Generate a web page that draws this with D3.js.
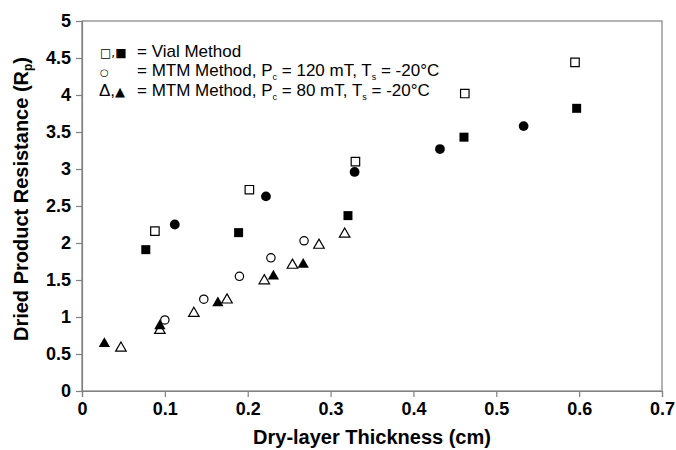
<!DOCTYPE html>
<html>
<head>
<meta charset="utf-8">
<script src="https://cdn.jsdelivr.net/npm/d3@7"></script>
<style>
  body { margin: 0; background: #fff; }
  svg { display: block; font-family: "Liberation Sans", Arial, sans-serif; }
</style>
</head>
<body>
<svg class="chart" width="676" height="450"></svg>
<script>
// dry-layer thickness (cm) / resistance
const vialOpenX = [0.088, 0.202, 0.330, 0.462, 0.595]
const vialOpenY = [2.16, 2.72, 3.10, 4.02, 4.44]
const vialFilledX = [0.077, 0.189, 0.321, 0.461, 0.597]
const vialFilledY = [1.91, 2.14, 2.37, 3.43, 3.82]
const filledCircleX = [0.112, 0.222, 0.329, 0.432, 0.533]
const filledCircleY = [2.25, 2.63, 2.96, 3.27, 3.58]
const mtm120X = [0.100, 0.147, 0.190, 0.228, 0.268]
const mtm120Y = [0.96, 1.24, 1.55, 1.80, 2.03]
const mtm80OpenX = [0.047, 0.094, 0.135, 0.175, 0.220, 0.254, 0.286, 0.317]
const mtm80OpenY = [0.58, 0.82, 1.05, 1.23, 1.49, 1.70, 1.97, 2.12]
const mtm80FilledX = [0.027, 0.094, 0.164, 0.231, 0.267]
const mtm80FilledY = [0.64, 0.88, 1.19, 1.55, 1.71]

const xTicks = [0, 0.1, 0.2, 0.3, 0.4, 0.5, 0.6, 0.7]
const yTicks = [0, 0.5, 1, 1.5, 2, 2.5, 3, 3.5, 4, 4.5, 5]

const plotLeft = 82, plotRight = 662, plotTop = 21, plotBottom = 391
const x = d3.scaleLinear([0, 0.7], [plotLeft, plotRight])
const y = d3.scaleLinear([0, 5], [plotBottom, plotTop])

const svg = d3.select('.chart')

// frame
svg.append('rect')
    .attr('x', plotLeft).attr('y', plotTop)
    .attr('width', plotRight - plotLeft).attr('height', plotBottom - plotTop)
    .attr('fill', 'none')
    .attr('stroke', '#808080')
    .attr('stroke-width', 1.2)

// AXES
const xAxis = svg.append('g')
    .attr('transform', `translate(0, ${plotBottom})`)
    .call(d3.axisBottom(x).tickValues(xTicks).tickFormat(d => String(d)).tickSize(6).tickPadding(5))
const yAxis = svg.append('g')
    .attr('transform', `translate(${plotLeft}, 0)`)
    .call(d3.axisLeft(y).tickValues(yTicks).tickFormat(d => String(d)).tickSize(6).tickPadding(5))

for (const ax of [xAxis, yAxis]) {
    ax.select('.domain').attr('stroke', '#808080').attr('stroke-width', 1.2)
    ax.selectAll('.tick line').attr('stroke', '#808080').attr('stroke-width', 1.2)
    ax.selectAll('.tick text')
        .attr('fill', '#000')
        .attr('font-size', '18px')
        .attr('font-weight', 'bold')
        .attr('font-family', '"Liberation Sans", Arial, sans-serif')
}

// axis titles
svg.append('text')
    .text('Dry-layer Thickness (cm)')
    .attr('x', (plotLeft + plotRight) / 2)
    .attr('y', 444)
    .attr('text-anchor', 'middle')
    .attr('font-size', '20px')
    .attr('font-weight', 'bold')

const yTitle = svg.append('text')
    .attr('transform', 'translate(28, 199) rotate(-90)')
    .attr('text-anchor', 'middle')
    .attr('font-size', '20px')
    .attr('font-weight', 'bold')
yTitle.append('tspan').text('Dried Product Resistance (R')
yTitle.append('tspan').text('p').attr('font-size', '12px').attr('dy', 4)
yTitle.append('tspan').text(')').attr('dy', -4)

// MARKERS
function drawSeries(xs, ys, type, size, filled) {
    const pts = xs.map((d, i) => ({x: d, y: ys[i]}))
    svg.append('g')
        .selectAll('path')
        .data(pts)
        .join('path')
        .attr('d', d3.symbol(type, size)())
        .attr('transform', d => `translate(${x(d.x)}, ${y(d.y)})`)
        .attr('fill', filled ? '#000' : '#fff')
        .attr('stroke', '#000')
        .attr('stroke-width', filled ? 0 : 1.2)
}

drawSeries(mtm80OpenX, mtm80OpenY, d3.symbolTriangle, 48, false)
drawSeries(mtm120X, mtm120Y, d3.symbolCircle, 55, false)
drawSeries(mtm80FilledX, mtm80FilledY, d3.symbolTriangle, 55, true)
drawSeries(vialOpenX, vialOpenY, d3.symbolSquare, 72, false)
drawSeries(vialFilledX, vialFilledY, d3.symbolSquare, 81, true)
drawSeries(filledCircleX, filledCircleY, d3.symbolCircle, 75, true)

// LEGEND
const legend = svg.append('g').attr('font-size', '17px').attr('fill', '#000')

legend.append('text').attr('x', 100).attr('y', 57)
    .attr('font-size', '12px').attr('font-family', '"DejaVu Sans", sans-serif')
    .text('□,■')
legend.append('text').attr('x', 100).attr('y', 76)
    .attr('font-size', '10px').attr('font-family', '"DejaVu Sans", sans-serif')
    .text('○')
const l3 = legend.append('text').attr('x', 99).attr('y', 96)
l3.append('tspan').text('Δ,')
l3.append('tspan').text('▲').attr('font-size', '13px').attr('font-family', '"DejaVu Sans", sans-serif')

legend.append('text').attr('x', 137).attr('y', 57).text('= Vial Method')

function legendLine(yPos, pc) {
    const t = legend.append('text').attr('x', 137).attr('y', yPos)
    t.append('tspan').text('= MTM Method, P')
    t.append('tspan').text('c').attr('font-size', '9px').attr('dy', 4)
    t.append('tspan').text(` = ${pc} mT, T`).attr('dy', -4)
    t.append('tspan').text('s').attr('font-size', '9px').attr('dy', 4)
    t.append('tspan').text(' = -20°C').attr('dy', -4)
}
legendLine(76, 120)
legendLine(96, 80)
</script>
</body>
</html>
